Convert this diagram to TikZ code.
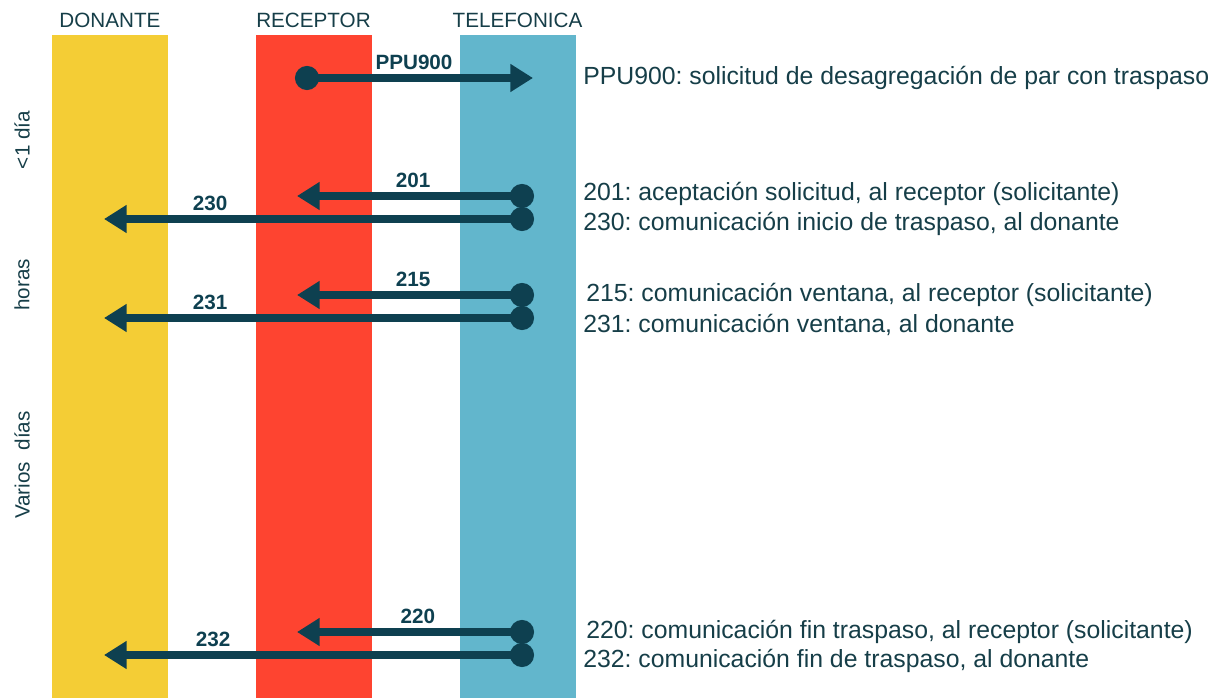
\documentclass[tikz,border=0pt]{standalone}
\usepackage{fontspec}
\setmainfont{Liberation Sans}
\frenchspacing
\usetikzlibrary{%
	positioning,
	arrows.meta
}
\definecolor{donYellow}{HTML}{F4CD35}
\definecolor{recRed}{HTML}{FE4430}
\definecolor{telBlue}{HTML}{62B6CC}
\definecolor{msgDark}{HTML}{0E4050}
\definecolor{txtDark}{HTML}{163E48}

\begin{document}
\begin{tikzpicture}[x=0.75pt,y=-0.75pt,
		lane/.style={shape=rectangle,minimum width=87pt,minimum height=497.25pt,inner sep=0pt,anchor=north},
		head/.style={font=\fontsize{15.5}{18}\selectfont,text=txtDark,inner sep=0pt},
		side/.style={font=\fontsize{15.5}{18}\selectfont,text=txtDark,rotate=90,inner sep=0pt},
		desc/.style={font=\fontsize{18.6}{22}\selectfont,text=txtDark,inner sep=0pt,anchor=west},
		msg/.style={line width=6pt,draw=msgDark,{Circle[length=18pt]}-{Triangle[length=17pt,width=20pt]}},
		code/.style={font=\bfseries\fontsize{15.5}{18}\selectfont,text=msgDark,inner sep=0pt,above=3.5pt}
	]
	\useasboundingbox (0,0) rectangle (1221,698);
	
		\node(donante) [lane, fill=donYellow] at (110,35) {};
		\node(receptor) [lane, fill=recRed] at (313.5,35) {};
		\node(telefonica) [lane, fill=telBlue] at (517.5,35) {};
		
		\node(h-don) [head, above=5.5pt of donante.north] {DONANTE};
		\node(h-rec) [head, above=5.5pt of receptor.north] {RECEPTOR};
		\node(h-tel) [head, above=5.5pt of telefonica.north] {TELEFONICA};
		
		\node(t-dia) [side] at (22,140) {<1 día};
		\node(t-horas) [side] at (22,285) {horas};
		\node(t-varios) [side] at (22,465) {Varios\ \ días};
		
		%mensajes
		\coordinate (s900) at (295,78);
		\coordinate (e900) at (533,78);
		\draw [msg] (s900) -- node [code, pos=.5] {PPU900} (e900);
		
		\coordinate (s201) at (534,196);
		\coordinate (e201) at (297,196);
		\draw [msg] (s201) -- node [code, pos=.51] {201} (e201);
		\coordinate (s230) at (534,219);
		\coordinate (e230) at (104,219);
		\draw [msg] (s230) -- node [code, pos=.753] {230} (e230);
		
		\coordinate (s215) at (534,295);
		\coordinate (e215) at (297,295);
		\draw [msg] (s215) -- node [code, pos=.51] {215} (e215);
		\coordinate (s231) at (534,318);
		\coordinate (e231) at (104,318);
		\draw [msg] (s231) -- node [code, pos=.753] {231} (e231);
		
		\coordinate (s220) at (534,632);
		\coordinate (e220) at (297,632);
		\draw [msg] (s220) -- node [code, pos=.49] {220} (e220);
		\coordinate (s232) at (534,655);
		\coordinate (e232) at (104,655);
		\draw [msg] (s232) -- node [code, pos=.746] {232} (e232);
		
		%descripciones
		\node(d900) [desc] at (583,78) {PPU900: solicitud de desagregación de par con traspaso};
		\node(d201) [desc] at (583,194) {201: aceptación solicitud, al receptor (solicitante)};
		\node(d230) [desc] at (583,224) {230: comunicación inicio de traspaso, al donante};
		\node(d215) [desc] at (586,295) {215: comunicación ventana, al receptor (solicitante)};
		\node(d231) [desc] at (583,325) {231: comunicación ventana, al donante};
		\node(d220) [desc] at (586,632) {220: comunicación fin traspaso, al receptor (solicitante)};
		\node(d232) [desc] at (583,661) {232: comunicación fin de traspaso, al donante};
		
\end{tikzpicture}
\end{document}
